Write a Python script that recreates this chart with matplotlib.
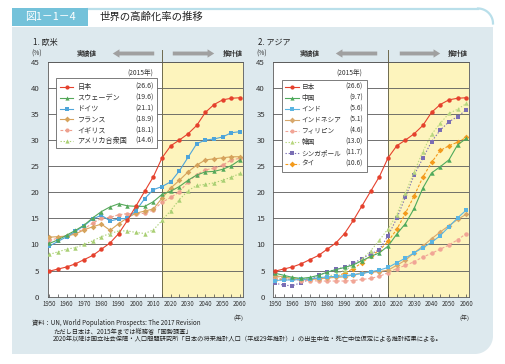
import numpy as np
import matplotlib
matplotlib.use("Agg")
import matplotlib.pyplot as plt
from matplotlib.patches import Rectangle, Polygon, FancyArrowPatch
from matplotlib.lines import Line2D

plt.rcParams['font.family'] = ['Noto Sans CJK JP', 'DejaVu Sans']

# ---------------- data ----------------
years = [1950, 1955, 1960, 1965, 1970, 1975, 1980, 1985, 1990, 1995, 2000, 2005,
         2010, 2015, 2020, 2025, 2030, 2035, 2040, 2045, 2050, 2055, 2060]

japan = [4.9, 5.3, 5.7, 6.3, 7.1, 7.9, 9.1, 10.3, 12.1, 14.6, 17.4, 20.2,
         23.0, 26.6, 28.9, 30.0, 31.2, 32.8, 35.3, 36.8, 37.7, 38.0, 38.1]

sweden = [10.2, 10.9, 11.8, 12.7, 13.7, 15.1, 16.3, 17.2, 17.8, 17.4, 17.3, 17.3,
          18.2, 19.6, 20.2, 21.1, 22.3, 23.3, 23.9, 24.0, 24.4, 25.1, 26.2]
germany = [9.7, 10.6, 11.5, 12.5, 13.6, 14.9, 15.6, 14.5, 14.9, 15.0, 16.5, 18.8,
           20.5, 21.1, 22.0, 24.1, 26.7, 29.3, 30.0, 30.2, 30.6, 31.4, 31.6]
france = [11.4, 11.5, 11.6, 12.0, 12.8, 13.4, 13.9, 12.7, 14.0, 15.1, 16.0, 16.4,
          16.8, 18.9, 20.8, 22.3, 23.9, 25.2, 26.2, 26.4, 26.6, 26.8, 26.8]
uk = [10.8, 11.2, 11.7, 12.2, 13.0, 14.1, 15.0, 15.2, 15.7, 15.9, 15.8, 16.0,
      16.6, 18.1, 19.0, 20.1, 22.0, 23.4, 24.3, 24.6, 25.2, 26.2, 26.5]
usa = [8.1, 8.6, 9.1, 9.4, 10.0, 10.7, 11.5, 12.1, 12.6, 12.6, 12.3, 12.1,
       12.8, 14.6, 16.5, 18.6, 20.3, 21.3, 21.5, 21.8, 22.3, 22.9, 23.6]

china = [4.5, 4.1, 3.7, 3.5, 3.7, 4.1, 4.7, 5.2, 5.6, 6.1, 6.9, 7.7,
         8.4, 9.7, 12.0, 14.0, 16.9, 20.8, 23.7, 24.9, 26.2, 29.1, 30.3]
india = [3.1, 3.2, 3.2, 3.3, 3.4, 3.6, 3.8, 3.9, 4.0, 4.2, 4.4, 4.8,
         5.1, 5.6, 6.5, 7.4, 8.4, 9.4, 10.4, 11.7, 13.4, 15.1, 16.6]
indonesia = [4.0, 3.8, 3.5, 3.3, 3.3, 3.4, 3.6, 3.7, 3.8, 4.2, 4.6, 4.7,
             4.8, 5.1, 6.0, 7.0, 8.4, 9.7, 11.1, 12.4, 13.6, 14.8, 15.8]
philippines = [3.6, 3.4, 3.3, 3.1, 3.1, 3.0, 3.0, 3.0, 3.0, 3.1, 3.3, 3.5,
               3.9, 4.6, 5.4, 6.0, 6.7, 7.6, 8.3, 9.1, 9.9, 10.9, 12.1]
korea = [3.9, 3.6, 3.5, 3.4, 3.4, 3.6, 3.9, 4.3, 5.1, 5.9, 7.2, 8.8,
         10.8, 13.0, 15.7, 19.9, 23.9, 27.8, 31.1, 33.2, 35.1, 35.9, 37.0]
singapore = [2.6, 2.2, 2.1, 2.7, 3.3, 4.1, 4.7, 5.3, 5.6, 6.4, 7.3, 8.2,
             9.0, 11.7, 15.0, 19.1, 23.3, 26.5, 29.7, 31.9, 33.5, 34.5, 35.8]
thailand = [3.2, 3.3, 3.3, 3.4, 3.4, 3.5, 3.6, 3.9, 4.5, 5.4, 6.5, 7.8,
            8.9, 10.6, 12.9, 16.0, 19.3, 22.9, 25.7, 28.0, 28.9, 29.6, 30.5]

west_names = ["日本", "スウェーデン", "ドイツ", "フランス", "イギリス", "アメリカ合衆国"]
west_vals = ["(26.6)", "(19.6)", "(21.1)", "(18.9)", "(18.1)", "(14.6)"]
asia_names = ["日本", "中国", "インド", "インドネシア", "フィリピン", "韓国", "シンガポール", "タイ"]
asia_vals = ["(26.6)", "(9.7)", "(5.6)", "(5.1)", "(4.6)", "(13.0)", "(11.7)", "(10.6)"]

xticks = [1950, 1960, 1970, 1980, 1990, 2000, 2010, 2020, 2030, 2040, 2050, 2060]
yticks = [0, 5, 10, 15, 20, 25, 30, 35, 40, 45]

# styles
RED = '#e5412d'
west_series = [japan, sweden, germany, france, uk, usa]
west_style = [
    dict(color=RED, marker='o', ls='-'),
    dict(color='#55a85a', marker='^', ls='-'),
    dict(color='#4ea5da', marker='s', ls='-'),
    dict(color='#d6a35c', marker='D', ls='-'),
    dict(color='#eda08e', marker='o', ls=(0, (2.5, 1.5))),
    dict(color='#a9cf73', marker='^', ls=(0, (1.2, 1.6))),
]
asia_series = [japan, china, india, indonesia, philippines, korea, singapore, thailand]
asia_style = [
    dict(color=RED, marker='o', ls='-'),
    dict(color='#4eaa5c', marker='^', ls='-'),
    dict(color='#5ab5e2', marker='s', ls='-'),
    dict(color='#d8a86c', marker='D', ls='-'),
    dict(color='#f1a596', marker='o', ls=(0, (2.5, 1.5))),
    dict(color='#b7d67e', marker='^', ls=(0, (1.2, 1.6))),
    dict(color='#7a6eb4', marker='s', ls=(0, (1.2, 1.6))),
    dict(color='#f39a1c', marker='D', ls=(0, (2.5, 1.5))),
]

W, H = 505, 364
fig = plt.figure(figsize=(W / 100, H / 100), dpi=100)
fig.patch.set_facecolor('white')

def fx(x):
    return x / W

def fy(y):
    return 1 - y / H

# --- background panel with rounded bottom-right corner (display pixels) ---
x0, x1, yt, yb, r = 12, 493, 27, 354, 18
pts = [(x0, H - yt), (x1, H - yt)]
ang = np.linspace(0, -np.pi / 2, 20)
for a in ang:
    pts.append((x1 - r + r * np.cos(a), H - (yb - r) + r * np.sin(a)))
pts.append((x0, H - yb))
fig.patches.append(Polygon(pts, closed=True, transform=None, facecolor='#dde9ee',
                           edgecolor='none', zorder=-5))
# title strip
fig.patches.append(Rectangle((fx(12), fy(26)), fx(76), 18 / H, transform=fig.transFigure,
                             facecolor='#74c2da', edgecolor='none', zorder=-4))
fig.lines.append(Line2D([fx(88), fx(478)], [fy(8.5), fy(8.5)], transform=fig.transFigure,
                        color='#b9dfea', lw=1.6, zorder=-4))
arc = np.linspace(np.pi / 2, 0, 20)
fig.lines.append(Line2D([478 + 15 * np.cos(a) for a in arc],
                        [H - (23.5 - 15 * np.sin(a)) for a in arc], transform=None,
                        color='#b9dfea', lw=1.6, zorder=-4))
fig.text(fx(50), fy(17), "図1－1－4", color='white', fontsize=7.8, ha='center', va='center')
fig.text(fx(100), fy(16.5), "世界の高齢化率の推移", color='#222222', fontsize=7.5,
         ha='left', va='center')

# axes
axL = fig.add_axes([47.7 / W, (H - 296.7) / H, 195.3 / W, 235 / H])
axR = fig.add_axes([273.3 / W, (H - 296.7) / H, 196 / W, 235 / H])

def style_axes(ax, series, styles):
    ax.set_facecolor('white')
    ax.set_xlim(1949.0, 2061.7)
    ax.set_ylim(0, 45)
    ax.axvspan(2015, 2061.7, color='#fdf4bd', zorder=0, lw=0)
    for yv in yticks[1:]:
        ax.axhline(yv, color='#5a5a5a', lw=0.6, zorder=1)
    ax.axvline(2015, ymin=0, ymax=1.05, color='#6e6a4e', lw=0.7, zorder=1, clip_on=False)
    for s, st in zip(series[::-1], styles[::-1]):
        ax.plot(years, s, color=st['color'], ls=st['ls'], lw=0.8, marker=st['marker'],
                markersize=3.2 if st['marker'] != 'D' else 2.9,
                markeredgewidth=0, zorder=3)
    ax.set_xticks(xticks)
    ax.set_xticks(years, minor=True)
    ax.set_xticklabels([str(t) for t in xticks], fontsize=4.4, color='#333333')
    ax.set_yticks(yticks)
    ax.set_yticklabels([str(t) for t in yticks], fontsize=5.6, color='#333333')
    ax.tick_params(axis='x', which='both', direction='in', length=2.5, width=0.5,
                   color='#444444', pad=2.5)
    ax.tick_params(axis='y', which='both', length=0, pad=6)
    for sp in ax.spines.values():
        sp.set_color('#5a5a5a')
        sp.set_linewidth(0.6)
    ax.text(1.0, -0.088, "(年)", transform=ax.transAxes, fontsize=4.3, ha='right',
            va='center', color='#333333')

style_axes(axL, west_series, west_style)
style_axes(axR, asia_series, asia_style)

def draw_legend(ax, axx0, axw, box, rows, samp, name_x, val_x, title_xy, names, vals,
                styles, fs):
    def ax_pt(px, py):
        return ((px - axx0) / axw, (296.7 - py) / 235)
    bx0, by0 = ax_pt(box[0], box[3])
    bx1, by1 = ax_pt(box[1], box[2])
    ax.add_patch(Rectangle((bx0, by0), bx1 - bx0, by1 - by0, transform=ax.transAxes,
                           facecolor='white', edgecolor='#666666', lw=0.6, zorder=5))
    tx, ty = ax_pt(*title_xy)
    ax.text(tx, ty, "(2015年)", transform=ax.transAxes, fontsize=4.8, ha='right',
            va='center', color='#333333', zorder=6)
    for py, nm, vl, st in zip(rows, names, vals, styles):
        a0, yy = ax_pt(samp[0], py)
        a1, _ = ax_pt(samp[1], py)
        ax.plot([a0, a1], [yy, yy], transform=ax.transAxes, color=st['color'], ls=st['ls'],
                lw=0.8, zorder=6, clip_on=False)
        ax.plot([(a0 + a1) / 2], [yy], transform=ax.transAxes, color=st['color'],
                marker=st['marker'], markersize=3.0, markeredgewidth=0, zorder=6,
                clip_on=False)
        nx, _ = ax_pt(name_x, py)
        vx, _ = ax_pt(val_x, py)
        ax.text(nx, yy, nm, transform=ax.transAxes, fontsize=fs, ha='left', va='center',
                color='#333333', zorder=6)
        ax.text(vx, yy, vl, transform=ax.transAxes, fontsize=fs, ha='right', va='center',
                color='#333333', zorder=6)

draw_legend(axL, 47.7, 195.3, (55.5, 156.5, 78.3, 147.5),
            [87 + 10.8 * i for i in range(6)], (60, 73), 77.5, 153.5, (153.5, 72.5),
            west_names, west_vals, west_style, 5.1)
draw_legend(axR, 273.3, 196, (281.7, 366.7, 80, 171.7),
            [86.7 + 11.05 * i for i in range(8)], (285, 298.5), 301.5, 363, (362, 72.5),
            asia_names, asia_vals, asia_style, 4.8)

# panel headers and arrows
for (lab, xl, xp, a_l0, a_l1, a_r0, a_r1, xsui) in [
        ("1. 欧米", 33, 31, 110, 157, 170, 217, 243),
        ("2. アジア", 258, 256, 333, 380, 397, 443, 468)]:
    fig.text(fx(xl), fy(42), lab, fontsize=5.8, ha='left', va='center', color='#222222')
    fig.text(fx(xp), fy(53.5), "(%)", fontsize=4.8, ha='left', va='center', color='#333333')
    fig.text(fx(a_l0 - 13), fy(53.5), "実績値", fontsize=4.8, ha='right', va='center',
             color='#333333', fontweight='bold')
    fig.text(fx(xsui), fy(53.5), "推計値", fontsize=4.8, ha='right', va='center',
             color='#333333', fontweight='bold')
    fig.patches.append(FancyArrowPatch(
        (a_l1, H - 53.5), (a_l0, H - 53.5), transform=None,
        arrowstyle='simple,head_length=0.6,head_width=0.75,tail_width=0.35',
        mutation_scale=8, color='#a0a0a0', lw=0))
    fig.patches.append(FancyArrowPatch(
        (a_r0, H - 53.5), (a_r1, H - 53.5), transform=None,
        arrowstyle='simple,head_length=0.6,head_width=0.75,tail_width=0.35',
        mutation_scale=8, color='#a0a0a0', lw=0))

# footnotes
fig.text(fx(32), fy(323), "資料：UN, World Population Prospects: The 2017 Revision",
         fontsize=4.5, ha='left', va='center', color='#222222')
fig.text(fx(53), fy(331), "ただし日本は、2015年までは総務省「国勢調査」",
         fontsize=4.5, ha='left', va='center', color='#222222')
fig.text(fx(53), fy(339), "2020年以降は国立社会保障・人口問題研究所「日本の将来推計人口（平成29年推計）」の出生中位・死亡中位仮定による推計結果による。",
         fontsize=4.5, ha='left', va='center', color='#222222')

fig.savefig("out.png", dpi=100, facecolor='white')
